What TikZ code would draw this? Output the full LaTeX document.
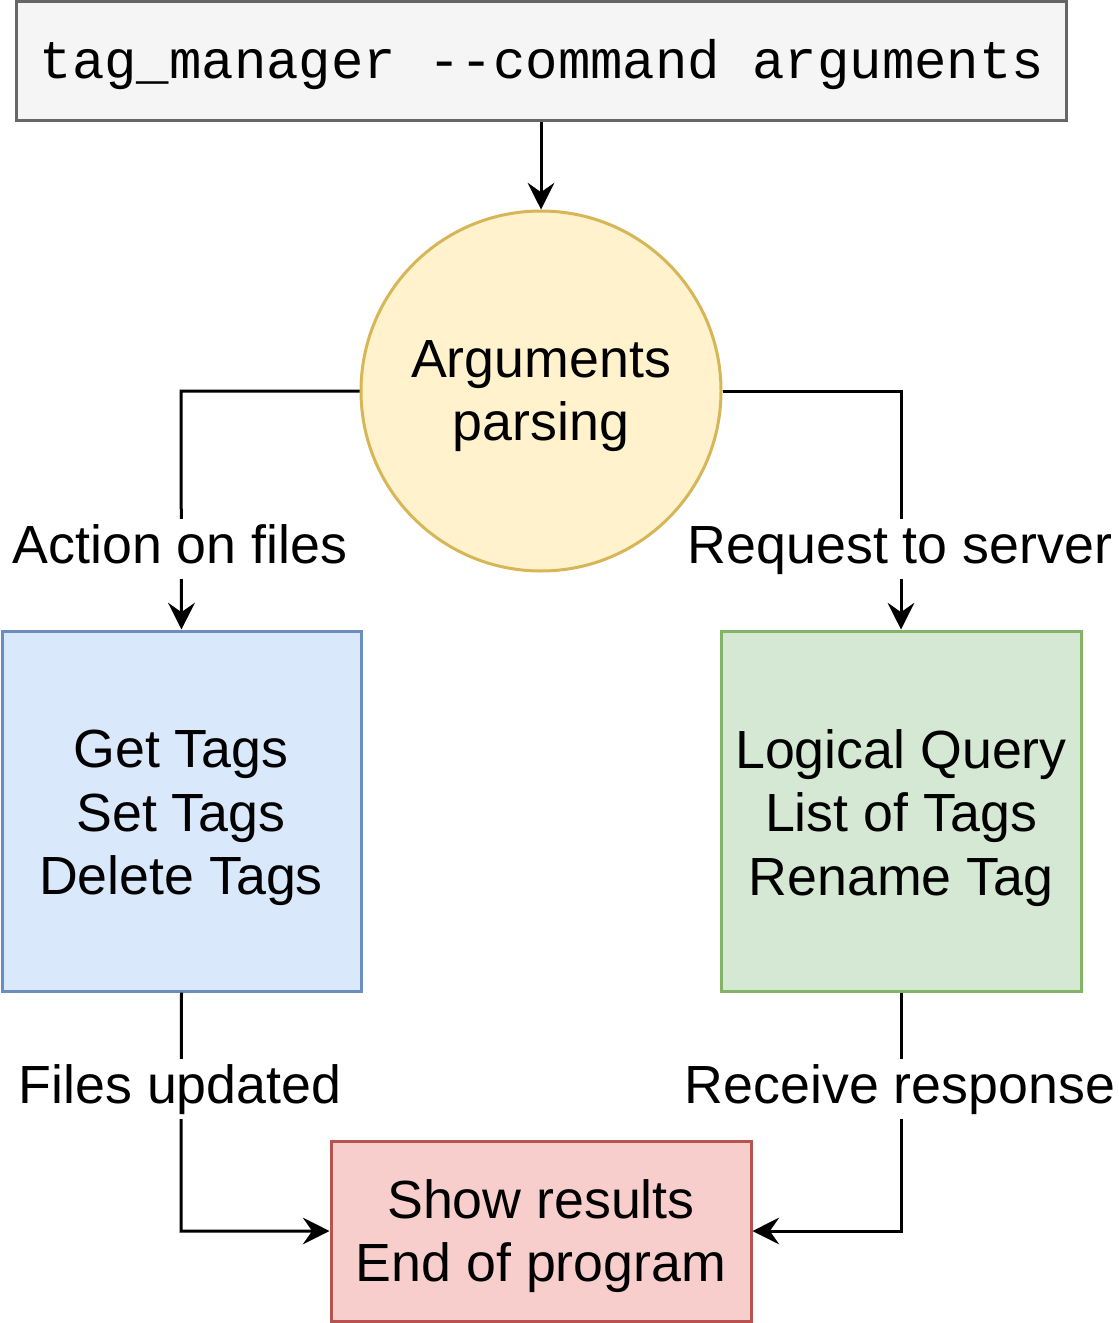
\documentclass[tikz,border=0pt]{standalone}
\usepackage{fontspec}
\setmainfont{Liberation Sans}
\newfontfamily\monof{Liberation Mono}
\usetikzlibrary{arrows.meta}
\definecolor{topfill}{HTML}{F5F5F5}
\definecolor{topline}{HTML}{666666}
\definecolor{yfill}{HTML}{FFF2CC}
\definecolor{yline}{HTML}{D6B656}
\definecolor{bfill}{HTML}{DAE8FC}
\definecolor{bline}{HTML}{6C8EBF}
\definecolor{gfill}{HTML}{D5E8D4}
\definecolor{gline}{HTML}{82B366}
\definecolor{rfill}{HTML}{F8CECC}
\definecolor{rline}{HTML}{B85450}
\begin{document}
\begin{tikzpicture}[x=0.75pt,y=-0.75pt,
  every node/.style={font=\fontsize{40.3}{47.5}\selectfont, align=center, inner sep=0pt},
  conn/.style={line width=2.25pt, -{Stealth[length=20pt,width=20pt,inset=7pt]}},
  lbl/.style={fill=white, inner xsep=1pt, inner ysep=3pt, text height=30pt, text depth=9pt, anchor=base}]
\useasboundingbox (0,0) rectangle (1119,1323);
\node[draw=topline, fill=topfill, line width=2.25pt, minimum width=1050*0.75pt, minimum height=119*0.75pt] (top) at (541,61.5) {};
\node[font=\monof\fontsize{40.5}{48}\selectfont] (toptext) at (542,64.5) {tag\_manager --command arguments};
\node[circle, draw=yline, fill=yfill, line width=2.25pt, minimum size=360*0.75pt] (parse) at (541,391) {};
\node (parsetext) at (541,396) {Arguments\\parsing};
\node[draw=bline, fill=bfill, line width=2.25pt, minimum width=359*0.75pt, minimum height=360*0.75pt] (files) at (181.5,811) {};
\node (filestext) at (181,818) {Get Tags\\Set Tags\\Delete Tags};
\node[draw=gline, fill=gfill, line width=2.25pt, minimum width=360*0.75pt, minimum height=360*0.75pt] (server) at (901,811) {};
\node (servertext) at (901,818) {Logical Query\\List of Tags\\Rename Tag};
\node[draw=rline, fill=rfill, line width=2.25pt, minimum width=420*0.75pt, minimum height=180*0.75pt] (show) at (541,1231) {};
\node (showtext) at (541,1236) {Show results\\End of program};
\coordinate (lc) at (181,391);
\coordinate (rc) at (901,391);
\coordinate (lb) at (181,1231);
\coordinate (rb) at (901,1231);
\draw[conn] (top.south) -- (parse.north);
\draw[conn] (parse.west) -- (lc) -- (files.north);
\draw[conn] (parse.east) -- (rc) -- (server.north);
\draw[conn] (files.south) -- (lb) -- (show.west);
\draw[conn] (server.south) -- (rb) -- (show.east);
\node[lbl] (l1) at (180,563) {Action on files};
\node[lbl] (l2) at (900,563) {Request to server};
\node[lbl] (l3) at (180,1103) {Files updated};
\node[lbl] (l4) at (900,1103) {Receive response};
\end{tikzpicture}
\end{document}
